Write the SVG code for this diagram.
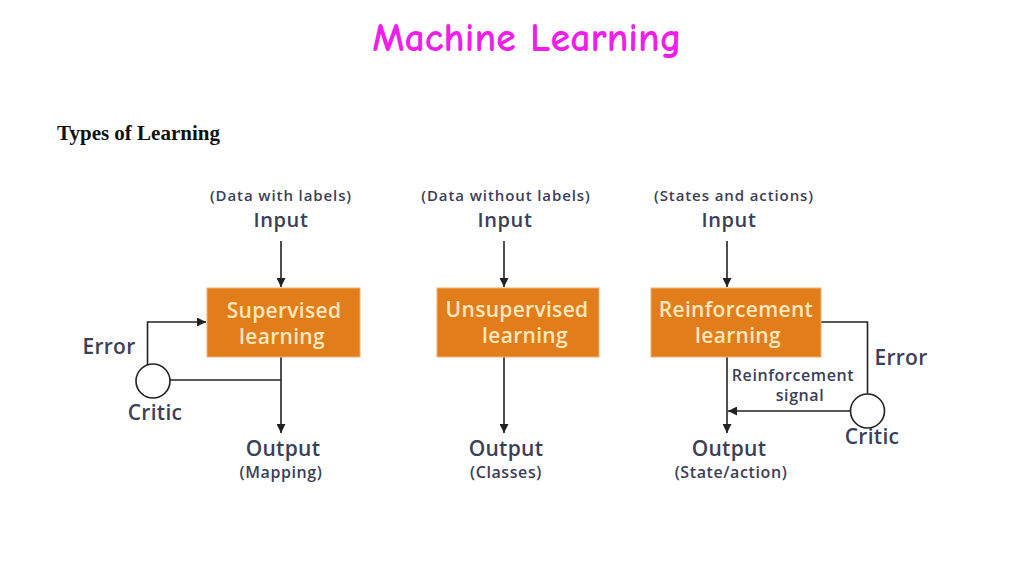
<svg xmlns="http://www.w3.org/2000/svg" width="1024" height="577" viewBox="0 0 1024 577">
<style>
.t{font-family:"Open Sans","DejaVu Sans",sans-serif;fill:#3b4058;text-anchor:middle;font-weight:600}
.sm{font-size:16px;letter-spacing:0.6px}
.hd{font-size:15px;letter-spacing:0.9px}
.lg{font-size:21px;letter-spacing:0.3px}
.in{font-size:20px;letter-spacing:0.6px}
.box{fill:#e27d1c;stroke:#f0b070;stroke-width:1}
.bt{font-family:"Open Sans","DejaVu Sans",sans-serif;fill:#fde7bd;font-size:21px;letter-spacing:0.3px;font-weight:600;text-anchor:middle}
.ln{stroke:#222;stroke-width:1.6;fill:none}
.cir{fill:#fff;stroke:#222;stroke-width:1.6}
</style>
<defs>
<marker id="ah" viewBox="0 0 10 10" refX="10" refY="5" markerWidth="9" markerHeight="9" markerUnits="userSpaceOnUse" orient="auto">
<path d="M0,0 L10,5 L0,10 z" fill="#222"/>
</marker>
</defs>
<rect width="1024" height="577" fill="#fff"/>
<text x="527" y="51" font-family="'Comic Neue','DejaVu Sans',sans-serif" font-size="40" font-weight="bold" fill="#f01ee8" text-anchor="middle">Machine Learning</text>
<text x="57" y="140" font-family="'Liberation Serif',serif" font-size="21" font-weight="bold" fill="#111">Types of Learning</text>

<g id="connectors">
<line class="ln" x1="281" y1="241" x2="281" y2="287" marker-end="url(#ah)"/>
<line class="ln" x1="281" y1="357" x2="281" y2="433" marker-end="url(#ah)"/>
<line class="ln" x1="170" y1="380" x2="281" y2="380"/>
<polyline class="ln" points="147.5,365 147.5,322 206,322" marker-end="url(#ah)"/>
<line class="ln" x1="504" y1="241" x2="504" y2="287" marker-end="url(#ah)"/>
<line class="ln" x1="504" y1="357" x2="504" y2="433" marker-end="url(#ah)"/>
<line class="ln" x1="727" y1="241" x2="727" y2="287" marker-end="url(#ah)"/>
<line class="ln" x1="727" y1="357" x2="727" y2="433" marker-end="url(#ah)"/>
<polyline class="ln" points="821,322 867.5,322 867.5,394"/>
<line class="ln" x1="850" y1="411" x2="728" y2="411" marker-end="url(#ah)"/>
</g>

<g id="supervised">
<text class="t hd" x="281" y="201">(Data with labels)</text>
<text class="t in" x="281" y="227">Input</text>
<rect class="box" x="207" y="288" width="153" height="69"/>
<text class="bt" x="284" y="318">Supervised</text>
<text class="bt" x="282" y="344">learning</text>
<text class="t lg" x="283" y="456">Output</text>
<text class="t sm" x="281" y="478">(Mapping)</text>
</g>
<g id="sup-critic">
<circle class="cir" cx="153" cy="381" r="17"/>
<text class="t lg" x="109" y="354">Error</text>
<text class="t lg" x="155" y="420">Critic</text>
</g>

<g id="unsupervised">
<text class="t hd" x="506" y="201">(Data without labels)</text>
<text class="t in" x="505" y="227">Input</text>
<rect class="box" x="437" y="288" width="162" height="69"/>
<text class="bt" x="517" y="317">Unsupervised</text>
<text class="bt" x="525" y="343">learning</text>
<text class="t lg" x="506" y="456">Output</text>
<text class="t sm" x="506" y="478">(Classes)</text>
</g>

<g id="reinforcement">
<text class="t hd" x="734" y="201">(States and actions)</text>
<text class="t in" x="729" y="227">Input</text>
<rect class="box" x="651" y="288" width="170" height="69"/>
<text class="bt" x="736" y="317">Reinforcement</text>
<text class="bt" x="738" y="343">learning</text>
<text class="t sm" x="793" y="381">Reinforcement</text>
<text class="t sm" x="800" y="401">signal</text>
<text class="t lg" x="729" y="456">Output</text>
<text class="t sm" x="731" y="478">(State/action)</text>
</g>
<g id="rl-critic">
<circle class="cir" cx="867.5" cy="411" r="17"/>
<text class="t lg" x="901" y="365">Error</text>
<text class="t lg" x="872" y="444">Critic</text>
</g>
</svg>
